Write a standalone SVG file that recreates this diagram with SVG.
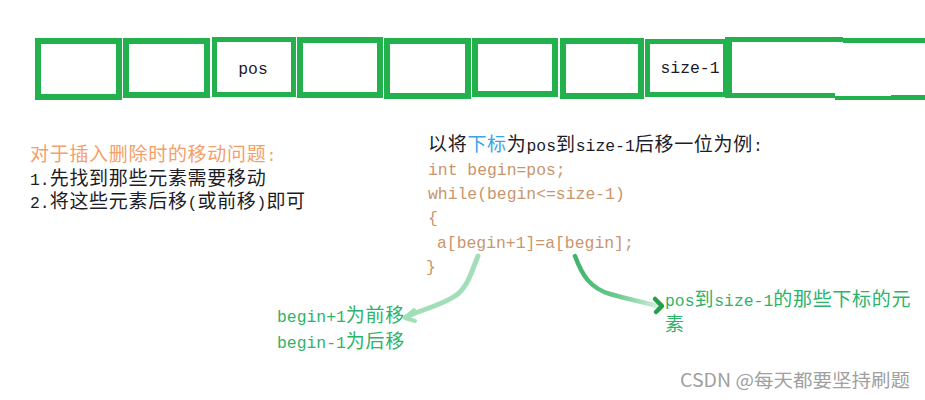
<svg xmlns="http://www.w3.org/2000/svg" width="925" height="400" viewBox="0 0 925 400">
<defs>
<style>
.box{fill:none;stroke:#22B14C}
.bar{fill:#22B14C}
.c{font-family:"Noto Sans CJK SC","Noto Sans",sans-serif;font-size:19px;letter-spacing:0.7px}
.m{font-family:"Liberation Mono","DejaVu Sans Mono",monospace;font-size:16.4px;letter-spacing:0}
.lbl{font-family:"Liberation Mono","DejaVu Sans Mono",monospace;font-size:16.4px;fill:#1a1a2a}
.org{fill:#F4A06A}
.blk{fill:#1c1c28}
.blu{fill:#3DA3E6}
.code{fill:#C9956C}
.grn{fill:#2DB36A}
</style>
<linearGradient id="gr" x1="575" y1="0" x2="660" y2="0" gradientUnits="userSpaceOnUse">
<stop offset="0" stop-color="#3FB56C"/>
<stop offset="0.5" stop-color="#6CC98E"/>
<stop offset="1" stop-color="#D6F1DF"/>
</linearGradient>
</defs>
<rect width="925" height="400" fill="#ffffff"/>

<g id="cells">
<g id="cell1"><rect class="box" x="38" y="41" width="81" height="56" stroke-width="6"/></g>
<g id="cell2"><rect class="box" x="126" y="41" width="81" height="54" stroke-width="6"/></g>
<g id="cell3"><rect class="box" x="214.5" y="39.5" width="79" height="55" stroke-width="5"/>
<text class="lbl" x="253" y="74" text-anchor="middle">pos</text></g>
<g id="cell4"><rect class="box" x="300" y="40" width="80" height="55" stroke-width="6"/></g>
<g id="cell5"><rect class="box" x="387" y="41" width="81" height="55" stroke-width="6"/></g>
<g id="cell6"><rect class="box" x="475" y="41" width="80" height="53" stroke-width="6"/></g>
<g id="cell7"><rect class="box" x="563" y="41" width="78" height="55" stroke-width="6"/></g>
<g id="cell8"><rect class="box" x="647.5" y="41.5" width="78" height="53" stroke-width="5"/>
<text class="lbl" x="690" y="73" text-anchor="middle">size-1</text></g>
<g id="cell9">
<rect class="bar" x="725" y="37" width="118" height="5"/>
<rect class="bar" x="725" y="37" width="7" height="61"/>
<rect class="bar" x="725" y="93" width="110" height="5"/>
</g>
<g id="cell10">
<rect class="bar" x="843" y="38" width="82" height="5"/>
<rect class="bar" x="835" y="96" width="57" height="4"/>
<rect class="bar" x="891" y="95" width="34" height="5"/>
</g>
</g>

<g id="note-left">
<text x="30" y="161"><tspan class="c org">对于插入删除时的移动问题</tspan><tspan class="m org">:</tspan></text>
<text x="30" y="185"><tspan class="m blk">1.</tspan><tspan class="c blk">先找到那些元素需要移动</tspan></text>
<text x="30" y="208"><tspan class="m blk">2.</tspan><tspan class="c blk">将这些元素后移</tspan><tspan class="m blk">(</tspan><tspan class="c blk">或前移</tspan><tspan class="m blk">)</tspan><tspan class="c blk">即可</tspan></text>
</g>

<g id="note-code">
<text x="428" y="151"><tspan class="c blk">以将</tspan><tspan class="c blu">下标</tspan><tspan class="c blk">为</tspan><tspan class="m blk">pos</tspan><tspan class="c blk">到</tspan><tspan class="m blk">size-1</tspan><tspan class="c blk">后移一位为例</tspan><tspan class="m blk">:</tspan></text>
<text class="m code" x="428" y="175">int begin=pos;</text>
<text class="m code" x="428" y="199">while(begin&lt;=size-1)</text>
<text class="m code" x="428" y="223">{</text>
<text class="m code" x="437" y="248">a[begin+1]=a[begin];</text>
<text class="m code" x="426" y="272">}</text>
</g>

<g id="note-forward">
<text x="277" y="322"><tspan class="m grn">begin+1</tspan><tspan class="c grn">为前移</tspan></text>
<text x="277" y="348"><tspan class="m grn">begin-1</tspan><tspan class="c grn">为后移</tspan></text>
</g>

<g id="note-range">
<text x="665" y="306"><tspan class="m grn">pos</tspan><tspan class="c grn">到</tspan><tspan class="m grn">size-1</tspan><tspan class="c grn">的那些下标的元</tspan></text>
<text x="665" y="331"><tspan class="c grn">素</tspan></text>
</g>

<g id="connectors" fill="none" stroke-linecap="round" stroke-linejoin="round">
<path d="M 478 256 C 472 270, 468 288, 455 296 C 440 306, 420 310, 406 317" stroke="#A2DFB8" stroke-width="5"/>
<path d="M 414 310 L 405 318 L 415 321" stroke="#A2DFB8" stroke-width="4"/>
<path d="M 575 256 C 582 275, 590 288, 610 294 C 630 300, 645 302, 657 306" stroke="url(#gr)" stroke-width="4.5"/>
<path d="M 655 299 L 662 306 L 656 312" stroke="#22A04A" stroke-width="4.5"/>
</g>

<text x="680" y="387" font-family="'Noto Sans CJK SC','Noto Sans',sans-serif" font-size="18" fill="#A0A0A0" textLength="230" lengthAdjust="spacingAndGlyphs">CSDN @每天都要坚持刷题</text>
</svg>
